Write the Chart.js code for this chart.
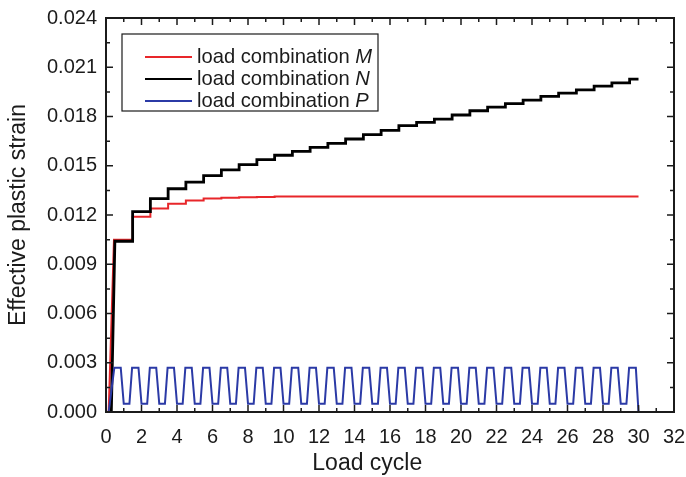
<!DOCTYPE html>
<html>
<head>
<meta charset="utf-8">
<script src="https://cdn.jsdelivr.net/npm/chart.js@4"></script>
<style>
  html, body { margin: 0; padding: 0; background: #fff; }
  #wrap { width: 686px; height: 477px; position: relative; }
</style>
</head>
<body>
<div id="wrap"><canvas id="grafico"></canvas></div>
<script>
// axis ticks
const xTicks = [0, 2, 4, 6, 8, 10, 12, 14, 16, 18, 20, 22, 24, 26, 28, 30, 32]
const yTicks = [0, 0.003, 0.006, 0.009, 0.012, 0.015, 0.018, 0.021, 0.024]

// load combination M (red): ramp, then one level per cycle
const mEdges = [0.45, 1.5, 2.5, 3.5, 4.5, 5.5, 6.5, 7.5, 8.5, 9.5, 30]
const mLevels = [0.0105, 0.0119, 0.0124, 0.01268, 0.01288, 0.0130, 0.01305, 0.01308, 0.0131, 0.01313]

// load combination N (black): steps at every half cycle
const nEdges = [0.5, 1.5, 2.5, 3.5, 4.5, 5.5, 6.5, 7.5, 8.5, 9.5, 10.5, 11.5, 12.5, 13.5, 14.5, 15.5,
  16.5, 17.5, 18.5, 19.5, 20.5, 21.5, 22.5, 23.5, 24.5, 25.5, 26.5, 27.5, 28.5, 29.5, 30]
const nLevels = [0.0104, 0.0122, 0.0130, 0.0136, 0.0140, 0.0144, 0.01475, 0.01507, 0.01537, 0.01564,
  0.01587, 0.01612, 0.01636, 0.01663, 0.01689, 0.01715, 0.01744, 0.01764, 0.01784, 0.01809,
  0.01835, 0.01857, 0.01879, 0.0190, 0.01922, 0.01942, 0.01962, 0.01985, 0.02005, 0.02028]

// load combination P (blue): load / unload every cycle
const pX = [
  0.15, 0.47, 0.83, 1.0,
  1.32, 1.47, 1.83, 2.0,
  2.32, 2.47, 2.83, 3.0,
  3.32, 3.47, 3.83, 4.0,
  4.32, 4.47, 4.83, 5.0,
  5.32, 5.47, 5.83, 6.0,
  6.32, 6.47, 6.83, 7.0,
  7.32, 7.47, 7.83, 8.0,
  8.32, 8.47, 8.83, 9.0,
  9.32, 9.47, 9.83, 10.0,
  10.32, 10.47, 10.83, 11.0,
  11.32, 11.47, 11.83, 12.0,
  12.32, 12.47, 12.83, 13.0,
  13.32, 13.47, 13.83, 14.0,
  14.32, 14.47, 14.83, 15.0,
  15.32, 15.47, 15.83, 16.0,
  16.32, 16.47, 16.83, 17.0,
  17.32, 17.47, 17.83, 18.0,
  18.32, 18.47, 18.83, 19.0,
  19.32, 19.47, 19.83, 20.0,
  20.32, 20.47, 20.83, 21.0,
  21.32, 21.47, 21.83, 22.0,
  22.32, 22.47, 22.83, 23.0,
  23.32, 23.47, 23.83, 24.0,
  24.32, 24.47, 24.83, 25.0,
  25.32, 25.47, 25.83, 26.0,
  26.32, 26.47, 26.83, 27.0,
  27.32, 27.47, 27.83, 28.0,
  28.32, 28.47, 28.83, 29.0,
  29.32, 29.47, 29.85, 30.0
]
const pY = [
  0, 0.0027, 0.0027, 0.0005,
  0.0005, 0.0027, 0.0027, 0.0005,
  0.0005, 0.0027, 0.0027, 0.0005,
  0.0005, 0.0027, 0.0027, 0.0005,
  0.0005, 0.0027, 0.0027, 0.0005,
  0.0005, 0.0027, 0.0027, 0.0005,
  0.0005, 0.0027, 0.0027, 0.0005,
  0.0005, 0.0027, 0.0027, 0.0005,
  0.0005, 0.0027, 0.0027, 0.0005,
  0.0005, 0.0027, 0.0027, 0.0005,
  0.0005, 0.0027, 0.0027, 0.0005,
  0.0005, 0.0027, 0.0027, 0.0005,
  0.0005, 0.0027, 0.0027, 0.0005,
  0.0005, 0.0027, 0.0027, 0.0005,
  0.0005, 0.0027, 0.0027, 0.0005,
  0.0005, 0.0027, 0.0027, 0.0005,
  0.0005, 0.0027, 0.0027, 0.0005,
  0.0005, 0.0027, 0.0027, 0.0005,
  0.0005, 0.0027, 0.0027, 0.0005,
  0.0005, 0.0027, 0.0027, 0.0005,
  0.0005, 0.0027, 0.0027, 0.0005,
  0.0005, 0.0027, 0.0027, 0.0005,
  0.0005, 0.0027, 0.0027, 0.0005,
  0.0005, 0.0027, 0.0027, 0.0005,
  0.0005, 0.0027, 0.0027, 0.0005,
  0.0005, 0.0027, 0.0027, 0.0005,
  0.0005, 0.0027, 0.0027, 0.0005,
  0.0005, 0.0027, 0.0027, 0.0005,
  0.0005, 0.0027, 0.0027, 0.0005,
  0.0005, 0.0027, 0.0027, 0
]

const FONT = "'Liberation Sans', Arial, sans-serif"
const INK = '#1b1b1b'

// turn levels into flat segments joined by vertical jumps
function escalones(start, edges, levels) {
  const pts = [start]
  levels.forEach((v, i) => {
    pts.push({ x: edges[i], y: v })
    pts.push({ x: edges[i + 1], y: v })
  })
  return pts
}

const datosM = escalones({ x: 0.15, y: 0 }, mEdges, mLevels)
const datosN = escalones({ x: 0.3, y: 0 }, nEdges, nLevels)
const datosP = pX.map((x, i) => ({ x, y: pY[i] }))

// box around the plot with inward ticks on all four sides
const marco = {
  id: 'marco',
  afterDatasetsDraw(chart) {
    const { ctx, chartArea: a, scales: { x, y } } = chart
    ctx.save()
    ctx.strokeStyle = INK
    ctx.lineWidth = 1.5
    const tick = (px, vertical, len) => {
      ctx.beginPath()
      if (vertical) {
        ctx.moveTo(px, a.bottom); ctx.lineTo(px, a.bottom - len)
        ctx.moveTo(px, a.top); ctx.lineTo(px, a.top + len)
      } else {
        ctx.moveTo(a.left, px); ctx.lineTo(a.left + len, px)
        ctx.moveTo(a.right, px); ctx.lineTo(a.right - len, px)
      }
      ctx.stroke()
    }
    xTicks.forEach((v, i) => {
      tick(x.getPixelForValue(v), true, 7)
      if (i < xTicks.length - 1) tick(x.getPixelForValue((v + xTicks[i + 1]) / 2), true, 4)
    })
    yTicks.forEach((v, i) => {
      tick(y.getPixelForValue(v), false, 7)
      if (i < yTicks.length - 1) tick(y.getPixelForValue((v + yTicks[i + 1]) / 2), false, 4)
    })
    ctx.lineWidth = 2
    ctx.strokeRect(a.left, a.top, a.right - a.left, a.bottom - a.top)

    // x axis title
    ctx.fillStyle = INK
    ctx.font = `23px ${FONT}`
    ctx.textAlign = 'center'
    ctx.textBaseline = 'middle'
    ctx.fillText('Load cycle', a.left + (a.right - a.left) * 0.46, 464)
    ctx.restore()
  }
}

// legend box, last letter of each label in italics
const leyenda = {
  id: 'leyenda',
  afterDraw(chart) {
    const { ctx, chartArea: a } = chart
    const left = a.left + 16, top = a.top + 16, w = 256, h = 77
    ctx.save()
    ctx.fillStyle = '#fff'
    ctx.fillRect(left, top, w, h)
    ctx.strokeStyle = INK
    ctx.lineWidth = 1.2
    ctx.strokeRect(left, top, w, h)
    ctx.textBaseline = 'middle'
    ctx.textAlign = 'left'
    chart.data.datasets.forEach((ds, i) => {
      const yy = top + 23 + i * 22
      ctx.strokeStyle = ds.borderColor
      ctx.lineWidth = 2.2
      ctx.beginPath()
      ctx.moveTo(left + 23, yy)
      ctx.lineTo(left + 70, yy)
      ctx.stroke()
      const partes = ds.label.split(' ')
      const letra = partes.pop()
      const base = partes.join(' ') + ' '
      ctx.fillStyle = INK
      ctx.font = `20.2px ${FONT}`
      ctx.fillText(base, left + 75, yy)
      const wb = ctx.measureText(base).width
      ctx.font = `italic 20.2px ${FONT}`
      ctx.fillText(letra, left + 75 + wb, yy)
    })
    ctx.restore()
  }
}

const chart = new Chart(document.getElementById('grafico'), {
  type: 'line',
  data: {
    datasets: [
      { label: 'load combination M', data: datosM, borderColor: '#e8262a', borderWidth: 2, order: 3 },
      { label: 'load combination N', data: datosN, borderColor: '#000000', borderWidth: 2.8, order: 2 },
      { label: 'load combination P', data: datosP, borderColor: '#2b3aa6', borderWidth: 2, order: 1 }
    ]
  },
  options: {
    responsive: true,
    maintainAspectRatio: false,
    animation: false,
    elements: { point: { radius: 0 }, line: { tension: 0, fill: false } },
    layout: { padding: { top: 18, right: 12, left: 0, bottom: 0 } },
    plugins: { legend: { display: false }, tooltip: { enabled: false } },
    scales: {
      x: {
        type: 'linear',
        min: 0,
        max: 32,
        afterBuildTicks: s => { s.ticks = xTicks.map(v => ({ value: v })) },
        afterFit: s => { s.height = 65; s.paddingLeft = 0; s.paddingRight = 0 },
        grid: { display: false, drawTicks: false },
        border: { display: false },
        ticks: { font: { size: 20, family: FONT }, color: INK, padding: 13, maxRotation: 0, autoSkip: false }
      },
      y: {
        min: 0,
        max: 0.024,
        afterBuildTicks: s => { s.ticks = yTicks.map(v => ({ value: v })) },
        afterFit: s => { s.width = 106; s.paddingTop = 0; s.paddingBottom = 0 },
        grid: { display: false, drawTicks: false },
        border: { display: false },
        ticks: { font: { size: 20, family: FONT }, color: INK, padding: 9, callback: v => v.toFixed(3) },
        title: {
          display: true,
          text: 'Effective plastic strain',
          font: { size: 23, family: FONT },
          color: INK,
          padding: { top: 5, bottom: 0 }
        }
      }
    }
  },
  plugins: [marco, leyenda]
})
</script>
</body>
</html>
